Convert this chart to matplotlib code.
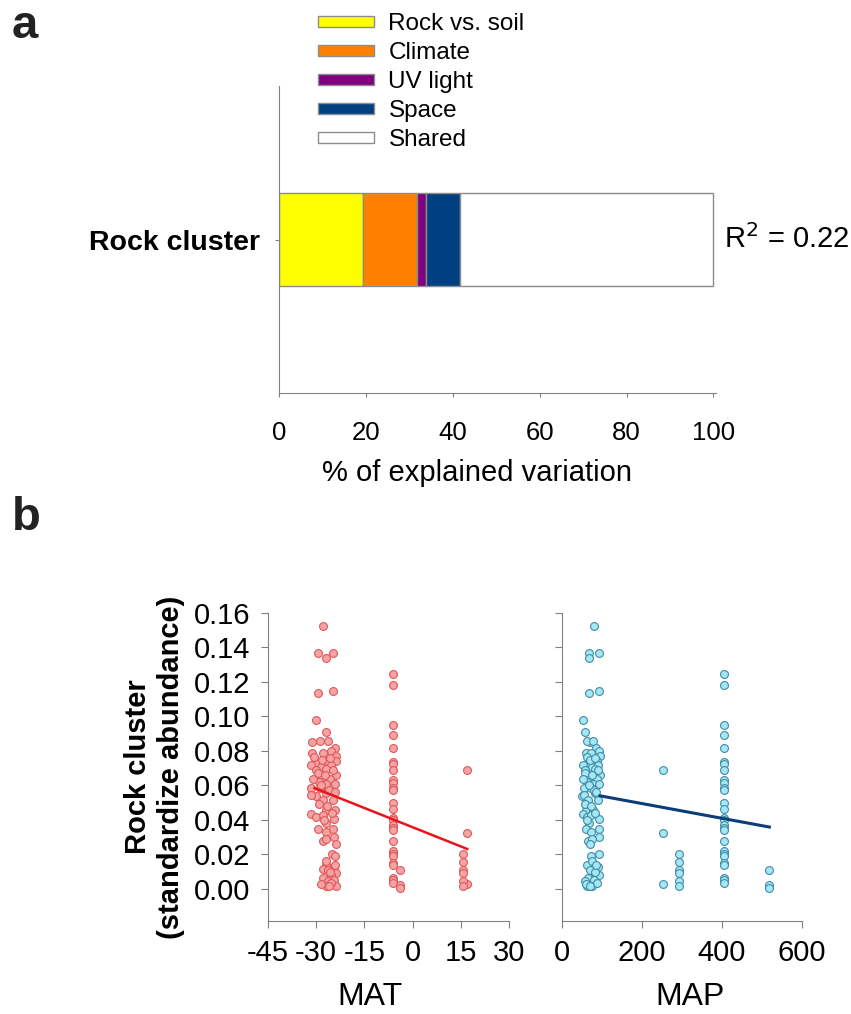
import matplotlib
matplotlib.use('Agg')
import matplotlib.pyplot as plt
from matplotlib.patches import Patch
from matplotlib.ticker import FormatStrFormatter
import numpy as np

plt.rcParams['font.family'] = ['Liberation Sans', 'DejaVu Sans']
plt.rcParams['axes.unicode_minus'] = False

# panel a: variation partitioning
parts = ['Rock vs. soil', 'Climate', 'UV light', 'Space', 'Shared']
part_values = [19.3, 12.4, 2.1, 7.9, 58.3]
part_colors = ['#ffff00', '#ff8000', '#800080', '#004080', '#ffffff']
r2_text = 'R$^2$ = 0.22'

# panel b: cold sites, one value per sample
cold_mat = [-27.9, -29.3, -26.8, -24.7, -29.3, -24.7, -30.1, -27.1,
            -31.3, -28.9, -26.3, -24.2, -31.3, -27.9, -25.3, -23.7,
            -29.9, -26.8, -23.7, -31.5, -28.4, -25.3, -30.0, -26.8,
            -23.9, -27.9, -25.6, -29.1, -26.8, -24.2, -31.5, -28.9,
            -30.0, -31.7, -26.8, -27.9, -24.7, -26.8, -24.2, -31.7,
            -30.1, -27.9, -24.5, -26.8, -29.4, -24.7, -26.8, -24.5,
            -27.9, -26.8, -23.7, -25.2, -24.0, -26.8, -28.0, -24.5,
            -26.3, -23.7, -27.9, -25.3, -26.3, -24.5, -26.8, -23.7,
            -25.3, -30.6, -28.2, -25.8, -29.5, -27.4, -24.8, -30.9,
            -26.1, -28.6, -24.0, -29.0, -26.5, -25.0, -27.6, -27.0,
            -25.6, -28.5, -24.3, -26.0]
cold_map = [81, 68, 68, 93, 68, 93, 52, 57,
            70, 63, 78, 86, 60, 73, 92, 95,
            66, 82, 88, 52, 75, 90, 58, 84,
            96, 70, 88, 62, 79, 94, 55, 72,
            51, 56, 84, 66, 90, 60, 78, 52,
            62, 74, 92, 68, 60, 92, 74, 92,
            66, 76, 70, 92, 72, 64, 78, 90,
            70, 84, 66, 92, 58, 80, 62, 76,
            88, 64, 71, 84, 57, 76, 90, 53,
            80, 68, 86, 58, 72, 82, 64, 76,
            84, 60, 86, 70]
cold_abund = [0.1525, 0.137, 0.134, 0.137, 0.1135, 0.115, 0.098, 0.091,
              0.085, 0.0855, 0.0855, 0.0816, 0.079, 0.0788, 0.0797, 0.077,
              0.073, 0.074, 0.074, 0.0716, 0.071, 0.0716, 0.069, 0.0695,
              0.066, 0.065, 0.0637, 0.062, 0.061, 0.061, 0.0585, 0.0585,
              0.0537, 0.0546, 0.0556, 0.0513, 0.0517, 0.046, 0.046, 0.0434,
              0.042, 0.043, 0.0405, 0.038, 0.035, 0.035, 0.033, 0.030,
              0.028, 0.029, 0.026, 0.020, 0.019, 0.014, 0.0118, 0.0127,
              0.011, 0.0093, 0.0064, 0.0083, 0.0044, 0.0054, 0.0015, 0.0019,
              0.0035, 0.0765, 0.0745, 0.0760, 0.0675, 0.0660, 0.0690, 0.0640,
              0.0575, 0.0600, 0.0560, 0.0495, 0.0480, 0.0440, 0.0400, 0.0160,
              0.0100, 0.0030, 0.0140, 0.0020]

# warmer sites, one MAT / MAP per site
site_mat = [-6.0, -4.0, 17.0, 15.8]
site_map = [405, 518, 254, 292]
site_abund = [
    [0.1247, 0.1183, 0.0953, 0.0890, 0.0816, 0.0739, 0.0726, 0.0687,
     0.0633, 0.0614, 0.0585, 0.0571, 0.0498, 0.0463, 0.0411, 0.0398,
     0.0372, 0.0353, 0.0340, 0.0276, 0.0218, 0.0205, 0.0193, 0.0151,
     0.0137, 0.0064, 0.0050, 0.0035],
    [0.0112, 0.0025, 0.0006],
    [0.0687, 0.0324, 0.0029],
    [0.0205, 0.0156, 0.0112, 0.0093, 0.0044, 0.0015],
]

# fitted lines (slope, intercept) and x range
mat_fit = (-0.000743, 0.0358)
mat_fit_x = (-30.5, 17.0)
map_fit = (-4.28e-5, 0.0581)
map_fit_x = (95.7, 518.5)

mat_all = list(cold_mat)
map_all = list(cold_map)
abund_all = list(cold_abund)
for m, p, vals in zip(site_mat, site_map, site_abund):
    mat_all += [m] * len(vals)
    map_all += [p] * len(vals)
    abund_all += vals

grey = '#808080'
W, H = 851, 1014
fig = plt.figure(figsize=(W / 100, H / 100), dpi=100)


def box(l, r, t, b):
    return [l / W, 1 - b / H, (r - l) / W, (b - t) / H]


# ---- panel a ----
ax = fig.add_axes(box(279.3, 716.5, 86, 393))
left = 0
for v, c in zip(part_values, part_colors):
    ax.barh(0, v, left=left, height=0.6, color=c, edgecolor='#8c8c8c', linewidth=1)
    left += v
ax.set_xlim(0, 100.7)
ax.set_ylim(-1, 1)
ax.set_yticks([0])
ax.set_yticklabels(['Rock cluster'], fontsize=20.5, fontweight='bold')
ax.set_xticks(range(0, 101, 20))
ax.tick_params(axis='x', labelsize=18.5, length=3, color=grey, pad=17)
ax.tick_params(axis='y', length=3, color=grey, pad=11)
for s in ['top', 'right']:
    ax.spines[s].set_visible(False)
for s in ['left', 'bottom']:
    ax.spines[s].set_color(grey)
ax.set_xlabel('% of explained variation', fontsize=21)
ax.xaxis.set_label_coords((477 - 279.3) / (716.5 - 279.3), -0.215)
ax.text(102.5, 0, r2_text, fontsize=21, va='center', ha='left')

handles = [Patch(facecolor=c, edgecolor='#8c8c8c', linewidth=1) for c in part_colors]
fig.legend(handles, parts, loc='upper left', bbox_to_anchor=(318 / W, 1 - 13 / H),
           frameon=False, fontsize=17.5, borderpad=0, handlelength=2.3,
           handleheight=0.35, handletextpad=0.6, labelspacing=0.29, borderaxespad=0)

fig.text(12 / W, 1 - 38 / H, 'a', fontsize=34, fontweight='bold', color='#222222')
fig.text(12 / W, 1 - 530 / H, 'b', fontsize=34, fontweight='bold', color='#222222')

# ---- panel b ----
ax1 = fig.add_axes(box(268, 509, 613, 920.7))
ax2 = fig.add_axes(box(561.7, 802, 613, 920.7))

ax1.scatter(mat_all, abund_all, s=32, facecolor='#f5a3a3', edgecolor='#e0585a',
            linewidth=0.8, zorder=2)
xs = np.array(mat_fit_x)
ax1.plot(xs, mat_fit[0] * xs + mat_fit[1], color='#e8141c', lw=1.8, zorder=3)

ax2.scatter(map_all, abund_all, s=32, facecolor='#a6e6f5', edgecolor='#3f8ea6',
            linewidth=0.8, zorder=2)
xs = np.array(map_fit_x)
ax2.plot(xs, map_fit[0] * xs + map_fit[1], color='#0b3d7a', lw=2.2, zorder=3)

ax1.set_xlim(-45, 30)
ax1.set_xticks(range(-45, 31, 15))
ax2.set_xlim(0, 600)
ax2.set_xticks(range(0, 601, 200))
for a in (ax1, ax2):
    a.set_ylim(-0.0184, 0.16)
    a.set_yticks(np.arange(0, 0.161, 0.02))
    a.yaxis.set_major_formatter(FormatStrFormatter('%.2f'))
    a.tick_params(labelsize=21, length=5, color=grey, pad=8)
    for s in ['top', 'right']:
        a.spines[s].set_visible(False)
    for s in ['left', 'bottom']:
        a.spines[s].set_color(grey)
ax2.set_yticklabels([])
ax1.set_xlabel('MAT', fontsize=23)
ax2.set_xlabel('MAP', fontsize=23)
ax1.xaxis.set_label_coords((370 - 268) / 241, -0.2)
ax2.xaxis.set_label_coords((690 - 561.7) / 240.3, -0.2)
ax1.set_ylabel('Rock cluster\n(standardize abundance)', fontsize=21,
               fontweight='bold', linespacing=1.2)
ax1.yaxis.set_label_coords(-0.345, 0.5)

fig.savefig('out.png', dpi=100)
